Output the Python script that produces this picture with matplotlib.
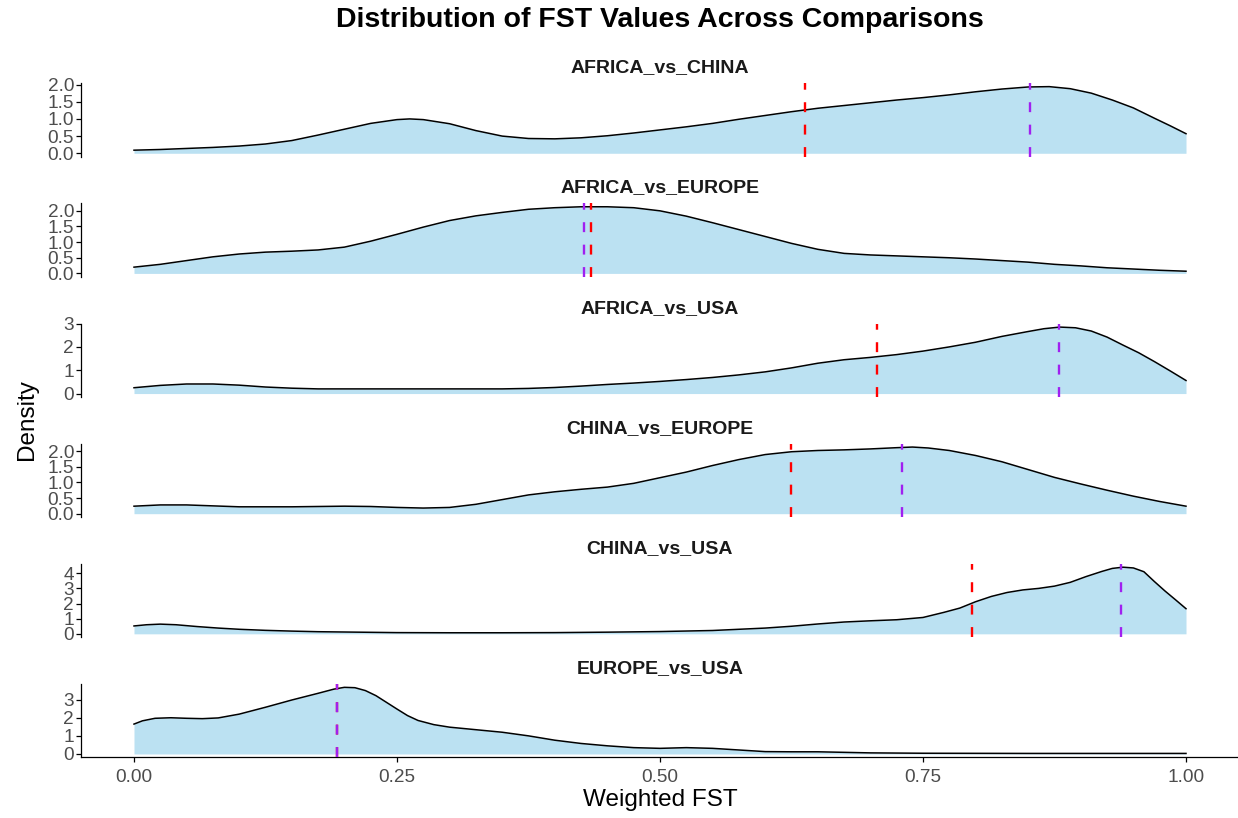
import matplotlib
matplotlib.use("Agg")
import matplotlib.pyplot as plt
import matplotlib.ticker as mticker

plt.rcParams['font.family'] = ['Liberation Sans', 'DejaVu Sans']

comparisons = ["AFRICA_vs_CHINA", "AFRICA_vs_EUROPE", "AFRICA_vs_USA",
               "CHINA_vs_EUROPE", "CHINA_vs_USA", "EUROPE_vs_USA"]

# Kernel density of weighted FST per comparison (x = FST, y = density)
africa_china_x = [0, 0.025, 0.05, 0.075, 0.1, 0.125, 0.15, 0.175, 0.2, 0.225, 0.25, 0.262,
                  0.275, 0.3, 0.325, 0.35, 0.375, 0.4, 0.425, 0.45, 0.475, 0.5, 0.525, 0.55,
                  0.575, 0.6, 0.625, 0.65, 0.675, 0.7, 0.725, 0.75, 0.775, 0.8, 0.825, 0.85,
                  0.87, 0.89, 0.91, 0.93, 0.95, 0.97, 0.985, 1.0]
africa_china_y = [0.09, 0.11, 0.14, 0.17, 0.21, 0.27, 0.37, 0.53, 0.7, 0.87, 0.98, 1.0,
                  0.98, 0.86, 0.66, 0.5, 0.43, 0.42, 0.45, 0.51, 0.59, 0.68, 0.77, 0.87,
                  0.99, 1.1, 1.21, 1.31, 1.39, 1.47, 1.55, 1.62, 1.7, 1.79, 1.87, 1.93,
                  1.94, 1.88, 1.75, 1.55, 1.32, 1.02, 0.8, 0.57]

africa_europe_x = [0, 0.025, 0.05, 0.075, 0.1, 0.125, 0.15, 0.175, 0.2, 0.225, 0.25, 0.275,
                   0.3, 0.325, 0.35, 0.375, 0.4, 0.425, 0.45, 0.475, 0.5, 0.525, 0.55, 0.575,
                   0.6, 0.625, 0.65, 0.675, 0.7, 0.725, 0.75, 0.775, 0.8, 0.825, 0.85, 0.875,
                   0.9, 0.925, 0.95, 0.975, 1.0]
africa_europe_y = [0.2, 0.29, 0.41, 0.53, 0.62, 0.68, 0.71, 0.75, 0.84, 1.03, 1.25, 1.48,
                   1.69, 1.84, 1.95, 2.05, 2.1, 2.13, 2.13, 2.1, 2.0, 1.83, 1.62, 1.4,
                   1.18, 0.96, 0.77, 0.64, 0.59, 0.56, 0.53, 0.5, 0.46, 0.41, 0.36, 0.29,
                   0.24, 0.18, 0.14, 0.1, 0.07]

africa_usa_x = [0, 0.025, 0.05, 0.075, 0.1, 0.125, 0.15, 0.175, 0.2, 0.25, 0.3, 0.35, 0.375,
                0.4, 0.425, 0.45, 0.475, 0.5, 0.525, 0.55, 0.575, 0.6, 0.625, 0.65, 0.675,
                0.7, 0.725, 0.75, 0.775, 0.8, 0.825, 0.85, 0.865, 0.88, 0.895, 0.91, 0.925,
                0.94, 0.955, 0.97, 0.985, 1.0]
africa_usa_y = [0.25, 0.35, 0.41, 0.41, 0.36, 0.28, 0.23, 0.2, 0.2, 0.2, 0.2, 0.2, 0.22,
                0.26, 0.32, 0.39, 0.45, 0.52, 0.6, 0.69, 0.8, 0.93, 1.1, 1.3, 1.45,
                1.55, 1.67, 1.82, 2.0, 2.2, 2.45, 2.66, 2.78, 2.85, 2.82, 2.68, 2.42,
                2.08, 1.75, 1.37, 0.97, 0.56]

china_europe_x = [0, 0.025, 0.05, 0.075, 0.1, 0.15, 0.2, 0.225, 0.25, 0.275, 0.3, 0.325,
                  0.35, 0.375, 0.4, 0.425, 0.45, 0.475, 0.5, 0.525, 0.55, 0.575, 0.6, 0.625,
                  0.65, 0.675, 0.7, 0.725, 0.74, 0.755, 0.775, 0.8, 0.825, 0.85, 0.875, 0.9,
                  0.925, 0.95, 0.975, 1.0]
china_europe_y = [0.24, 0.28, 0.28, 0.25, 0.22, 0.22, 0.24, 0.23, 0.2, 0.18, 0.2, 0.3,
                  0.45, 0.6, 0.7, 0.78, 0.85, 0.97, 1.15, 1.33, 1.54, 1.73, 1.89, 1.98,
                  2.02, 2.04, 2.07, 2.11, 2.13, 2.1, 2.02, 1.86, 1.66, 1.41, 1.16, 0.95,
                  0.75, 0.56, 0.39, 0.24]

china_usa_x = [0, 0.012, 0.025, 0.04, 0.06, 0.08, 0.1, 0.125, 0.15, 0.175, 0.2, 0.25, 0.3,
               0.35, 0.4, 0.45, 0.5, 0.55, 0.6, 0.625, 0.65, 0.675, 0.7, 0.725, 0.75, 0.76,
               0.77, 0.785, 0.8, 0.815, 0.83, 0.845, 0.86, 0.875, 0.89, 0.905, 0.92, 0.93,
               0.94, 0.95, 0.96, 0.97, 0.98, 0.99, 1.0]
china_usa_y = [0.52, 0.6, 0.64, 0.6, 0.48, 0.38, 0.3, 0.23, 0.18, 0.14, 0.12, 0.08, 0.07,
               0.07, 0.08, 0.11, 0.15, 0.22, 0.38, 0.5, 0.65, 0.78, 0.86, 0.93, 1.08, 1.25,
               1.42, 1.7, 2.12, 2.47, 2.73, 2.9, 3.0, 3.15, 3.4, 3.78, 4.12, 4.32,
               4.4, 4.35, 4.1, 3.45, 2.83, 2.25, 1.66]

europe_usa_x = [0, 0.008, 0.02, 0.035, 0.05, 0.065, 0.08, 0.1, 0.125, 0.15, 0.175, 0.19,
                0.2, 0.21, 0.22, 0.23, 0.24, 0.25, 0.26, 0.27, 0.285, 0.3, 0.325, 0.35,
                0.375, 0.4, 0.425, 0.45, 0.475, 0.5, 0.525, 0.55, 0.575, 0.6, 0.625, 0.65,
                0.675, 0.7, 0.75, 0.85, 1.0]
europe_usa_y = [1.65, 1.83, 1.97, 2.0, 1.97, 1.95, 1.99, 2.2, 2.58, 2.98, 3.35, 3.58,
                3.68, 3.66, 3.5, 3.22, 2.85, 2.48, 2.12, 1.85, 1.62, 1.48, 1.34, 1.2,
                1.0, 0.76, 0.58, 0.45, 0.35, 0.31, 0.35, 0.31, 0.22, 0.13, 0.12, 0.12,
                0.09, 0.06, 0.04, 0.03, 0.03]

mean_fst = [0.638, 0.434, 0.706, 0.625, 0.797, 0.193]
median_fst = [0.852, 0.428, 0.879, 0.730, 0.938, 0.193]

y_ticks = [[0, 0.5, 1, 1.5, 2], [0, 0.5, 1, 1.5, 2], [0, 1, 2, 3],
           [0, 0.5, 1, 1.5, 2], [0, 1, 2, 3, 4], [0, 1, 2, 3]]
y_fmt = ["%.1f", "%.1f", "%d", "%.1f", "%d", "%d"]
x_ticks = [0, 0.25, 0.5, 0.75, 1.0]
x_labels = ["0.00", "0.25", "0.50", "0.75", "1.00"]

curves = [(africa_china_x, africa_china_y), (africa_europe_x, africa_europe_y),
          (africa_usa_x, africa_usa_y), (china_europe_x, china_europe_y),
          (china_usa_x, china_usa_y), (europe_usa_x, europe_usa_y)]

fill_color = '#BBE1F2'
mean_color = '#FF0000'
median_color = '#A020F0'
tick_color = '#4D4D4D'

W, H = 1238, 818
fig = plt.figure(figsize=(W / 100, H / 100), dpi=100)

left_px, right_px = 81.4, 1238.6
first_top, pitch, panel_h = 83.3, 120.14, 73.3

for i, (name, (xs, ys)) in enumerate(zip(comparisons, curves)):
    top = first_top + i * pitch
    ax = fig.add_axes([left_px / W, 1 - (top + panel_h) / H,
                       (right_px - left_px) / W, panel_h / H])
    ymax = max(ys)
    ax.fill_between(xs, ys, 0, color=fill_color, lw=0, zorder=1)
    ax.plot(xs, ys, color='black', lw=1.1, zorder=2, solid_joinstyle='round')
    ax.axvline(mean_fst[i], color=mean_color, lw=1.7, ls=(0, (4.2, 5.3)), zorder=3)
    ax.axvline(median_fst[i], color=median_color, lw=1.7, ls=(0, (4.2, 5.3)), zorder=4)

    ax.set_xlim(-0.05, 1.05)
    ax.set_ylim(-0.05 * ymax, 1.05 * ymax)
    ax.set_yticks(y_ticks[i])
    ax.yaxis.set_major_formatter(mticker.FormatStrFormatter(y_fmt[i]))
    ax.set_xticks(x_ticks)

    for side in ['top', 'right']:
        ax.spines[side].set_visible(False)
    ax.spines['left'].set_linewidth(0.9)
    ax.tick_params(axis='y', length=3.3, width=0.9, pad=2, labelsize=13.7,
                   labelcolor=tick_color, color='black')
    if i < len(comparisons) - 1:
        ax.spines['bottom'].set_visible(False)
        ax.tick_params(axis='x', bottom=False, labelbottom=False)
    else:
        ax.spines['bottom'].set_linewidth(0.9)
        ax.set_xticklabels(x_labels)
        ax.tick_params(axis='x', length=3.3, width=0.9, pad=5, labelsize=13.7,
                       labelcolor=tick_color, color='black')

    # facet strip label
    ax.text(0.5, 1 + 15.5 / panel_h, name, transform=ax.transAxes, ha='center',
            va='center', fontsize=14, fontweight='bold', color='#1A1A1A')

fig.text(660 / W, 1 - 20 / H, "Distribution of FST Values Across Comparisons",
         ha='center', va='center', fontsize=20.5, fontweight='bold', color='black')
fig.text(660 / W, 1 - 800 / H, "Weighted FST", ha='center', va='center',
         fontsize=17.5, color='black')
fig.text(27 / W, 1 - 420 / H, "Density", ha='center', va='center', rotation=90,
         fontsize=17.5, color='black')

fig.savefig("out.png", dpi=100)
